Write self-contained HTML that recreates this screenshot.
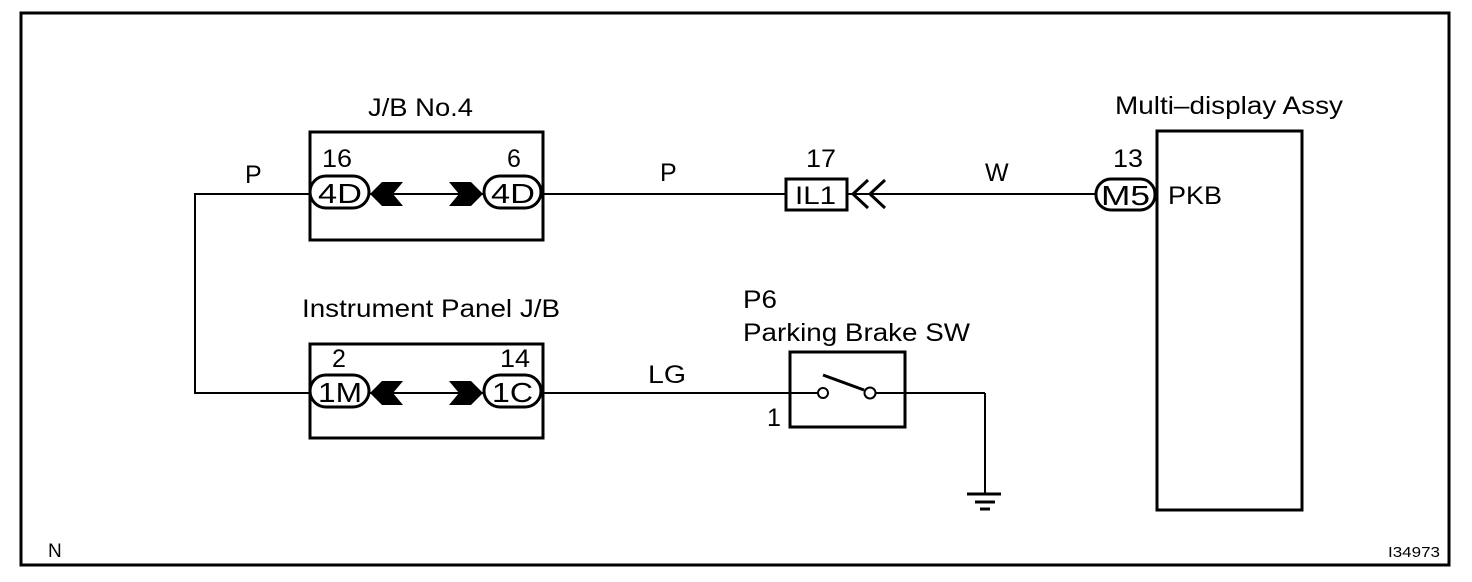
<!DOCTYPE html>
<html><head><style>
html,body{margin:0;padding:0;background:#fff;}
svg{display:block;}
text{font-family:"Liberation Sans",Arial,sans-serif;fill:#000;}
</style></head><body>
<svg width="1472" height="582" viewBox="0 0 1472 582" xmlns="http://www.w3.org/2000/svg">
<rect x="21" y="13" width="1428" height="552" fill="none" stroke="#000" stroke-width="3"/>
<g stroke="#000" fill="none" stroke-width="2">
<polyline points="310,194 195,194 195,393 310,393"/>
<line x1="369" y1="194" x2="484" y2="194"/>
<line x1="369" y1="393" x2="484" y2="393"/>
<line x1="541" y1="194" x2="786" y2="194"/>
<line x1="847" y1="194" x2="1096" y2="194"/>
<line x1="541" y1="393" x2="818" y2="393"/>
<line x1="875" y1="393" x2="985" y2="393"/>
<line x1="985" y1="393" x2="985" y2="493"/>
</g>
<g stroke="#000" fill="none" stroke-width="3">
<rect x="310" y="132" width="233" height="108"/>
<rect x="310" y="344" width="233" height="94"/>
<rect x="786" y="179" width="61" height="31"/>
<rect x="1157" y="131" width="145" height="379"/>
<rect x="790" y="352" width="115" height="75"/>
<rect x="310" y="176" width="59" height="32" rx="16"/>
<rect x="484" y="176" width="57" height="32" rx="16"/>
<rect x="310" y="375" width="59" height="32" rx="16"/>
<rect x="484" y="375" width="57" height="32" rx="16"/>
<rect x="1096" y="179" width="59" height="31" rx="15"/>
<polyline points="868,180 853,194 868,208"/>
<polyline points="885,180 870,194 885,208"/>
<line x1="823" y1="375" x2="864" y2="390"/>
<line x1="967" y1="494" x2="1001" y2="494" stroke-width="3"/>
<line x1="975" y1="502" x2="995" y2="502"/>
<line x1="980" y1="509" x2="990" y2="509"/>
</g>
<g stroke="#000" stroke-width="2" fill="#fff">
<circle cx="823" cy="393" r="5"/>
<circle cx="870" cy="393" r="5.5"/>
</g>
<g fill="#000">
<polygon points="370,194 382,182 403,182 393,194 403,206 382,206"/>
<polygon points="449,182 471,182 483,194 471,206 449,206 459,194"/>
<polygon points="370,393 382,381 403,381 393,393 403,405 382,405"/>
<polygon points="449,381 471,381 483,393 471,405 449,405 459,393"/>
</g>
<g font-size="25">
<text x="368" y="116" textLength="105" lengthAdjust="spacingAndGlyphs">J/B No.4</text>
<text x="322" y="167" textLength="30" lengthAdjust="spacingAndGlyphs">16</text>
<text x="507" y="167">6</text>
<text x="318" y="203" font-size="28" textLength="44" lengthAdjust="spacingAndGlyphs">4D</text>
<text x="491" y="203" font-size="28" textLength="44" lengthAdjust="spacingAndGlyphs">4D</text>
<text x="245" y="183">P</text>
<text x="660" y="181">P</text>
<text x="806" y="167" textLength="30" lengthAdjust="spacingAndGlyphs">17</text>
<text x="795" y="204" textLength="41" lengthAdjust="spacingAndGlyphs">IL1</text>
<text x="985" y="181">W</text>
<text x="1113" y="167" textLength="30" lengthAdjust="spacingAndGlyphs">13</text>
<text x="1101" y="205" font-size="28" textLength="49" lengthAdjust="spacingAndGlyphs">M5</text>
<text x="1168" y="204" textLength="54" lengthAdjust="spacingAndGlyphs">PKB</text>
<text x="1115" y="114" textLength="228" lengthAdjust="spacingAndGlyphs">Multi–display Assy</text>
<text x="302" y="317" textLength="258" lengthAdjust="spacingAndGlyphs">Instrument Panel J/B</text>
<text x="332" y="367">2</text>
<text x="500" y="367" textLength="30" lengthAdjust="spacingAndGlyphs">14</text>
<text x="318" y="402" font-size="28" textLength="44" lengthAdjust="spacingAndGlyphs">1M</text>
<text x="492" y="402" font-size="28" textLength="41" lengthAdjust="spacingAndGlyphs">1C</text>
<text x="648" y="383" textLength="38" lengthAdjust="spacingAndGlyphs">LG</text>
<text x="743" y="308" textLength="34" lengthAdjust="spacingAndGlyphs">P6</text>
<text x="743" y="341" textLength="227" lengthAdjust="spacingAndGlyphs">Parking Brake SW</text>
<text x="767" y="426">1</text>
<text x="48" y="557" font-size="19">N</text>
<text x="1388" y="557" font-size="15" textLength="52" lengthAdjust="spacingAndGlyphs">I34973</text>
</g>
</svg>
</body></html>
